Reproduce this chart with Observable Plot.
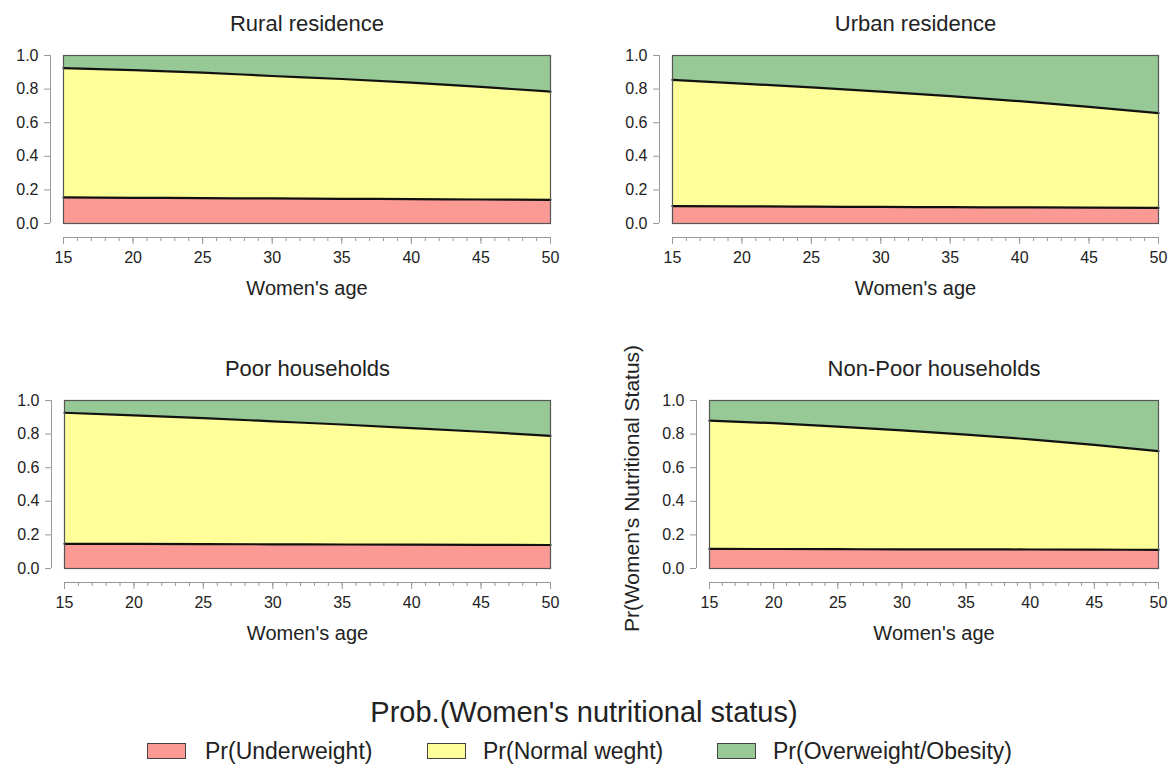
<!DOCTYPE html>
<html>
<head>
<meta charset="utf-8">
<script src="https://cdn.jsdelivr.net/npm/d3@7"></script>
<script src="https://cdn.jsdelivr.net/npm/@observablehq/plot@0.6"></script>
<style>
  html, body { margin: 0; padding: 0; background: #fff; }
  #root { position: relative; width: 1174px; height: 769px; font-family: "Liberation Sans", Arial, Helvetica, sans-serif; color: #222; }
  .panel { position: absolute; }
  .legend-title { position: absolute; left: 0; width: 1168px; text-align: center; top: 695px; font-size: 29px; line-height: 34px; }
  .sw { position: absolute; width: 37px; height: 14px; border: 1px solid #444; top: 743px; }
  .lab { position: absolute; font-size: 23px; line-height: 26px; top: 738px; }
</style>
</head>
<body>
<div id="root"></div>
<script>
const ages = [15, 20, 25, 30, 35, 40, 45, 50];
const statuses = ["Pr(Underweight)", "Pr(Normal weght)", "Pr(Overweight/Obesity)"];
const statusColors = ["#FB9A95", "#FFFF99", "#97C996"];
const panelTitles = ["Rural residence", "Urban residence", "Poor households", "Non-Poor households"];
const xTicks = [15, 20, 25, 30, 35, 40, 45, 50];
const yTicks = [0, 0.2, 0.4, 0.6, 0.8, 1.0];

const ruralUnder  = [0.155, 0.153, 0.151, 0.149, 0.147, 0.145, 0.143, 0.141];
const ruralNormal = [0.770, 0.760, 0.747, 0.729, 0.713, 0.693, 0.670, 0.644];
const ruralOver   = [0.075, 0.087, 0.102, 0.122, 0.140, 0.162, 0.187, 0.215];

const urbanUnder  = [0.103, 0.102, 0.100, 0.099, 0.097, 0.096, 0.094, 0.093];
const urbanNormal = [0.752, 0.731, 0.710, 0.686, 0.661, 0.632, 0.600, 0.564];
const urbanOver   = [0.145, 0.167, 0.190, 0.215, 0.242, 0.272, 0.306, 0.343];

const poorUnder  = [0.147, 0.146, 0.145, 0.144, 0.143, 0.142, 0.141, 0.140];
const poorNormal = [0.780, 0.766, 0.750, 0.732, 0.714, 0.694, 0.673, 0.650];
const poorOver   = [0.073, 0.088, 0.105, 0.124, 0.143, 0.164, 0.186, 0.210];

const nonPoorUnder  = [0.117, 0.116, 0.115, 0.114, 0.114, 0.113, 0.112, 0.111];
const nonPoorNormal = [0.763, 0.749, 0.730, 0.708, 0.683, 0.656, 0.624, 0.587];
const nonPoorOver   = [0.120, 0.135, 0.155, 0.178, 0.203, 0.231, 0.264, 0.302];

const xLabel = "Women's age";
const yLabel = "Pr(Women's Nutritional Status)";
const legendTitle = "Prob.(Women's nutritional status)";

const FONT = '"Liberation Sans", Arial, Helvetica, sans-serif';

function rowsFor(series) {
  const rows = [];
  series.forEach((vals, si) => {
    ages.forEach((a, i) => rows.push({age: a, status: statuses[si], p: vals[i]}));
  });
  return rows;
}

const panels = [
  {title: panelTitles[0], series: [ruralUnder, ruralNormal, ruralOver], left: 0, top: 0, width: 580, ml: 63, mr: 30, ylab: false},
  {title: panelTitles[1], series: [urbanUnder, urbanNormal, urbanOver], left: 580, top: 0, width: 594, ml: 92, mr: 16, ylab: false},
  {title: panelTitles[2], series: [poorUnder, poorNormal, poorOver], left: 0, top: 345, width: 580, ml: 64, mr: 30, ylab: false},
  {title: panelTitles[3], series: [nonPoorUnder, nonPoorNormal, nonPoorOver], left: 580, top: 345, width: 594, ml: 129, mr: 16, ylab: true}
];

const root = document.getElementById("root");

for (const pn of panels) {
  const rows = rowsFor(pn.series);
  const lowerRows = rows.filter(d => d.status !== statuses[2]);
  const marks = [
    Plot.areaY(rows, {x: "age", y: "p", fill: "status", order: statuses, curve: "monotone-x"}),
    Plot.lineY(lowerRows, Plot.stackY2({x: "age", y: "p", z: "status", order: statuses, stroke: "#111", strokeWidth: 2.2, curve: "monotone-x"})),
    Plot.frame({stroke: "#555", strokeWidth: 1.2}),
    Plot.ruleY([0], {dy: 14, stroke: "#999"}),
    Plot.ruleX([15], {dx: -13, stroke: "#999"}),
    Plot.axisX({ticks: d3.range(15, 51, 1), tickSize: 4, tickFormat: () => "", dy: 14, stroke: "#999", label: null}),
    Plot.axisX({ticks: xTicks, tickSize: 7, tickPadding: 7, dy: 14, stroke: "#999", fill: "#222", fontSize: 16, label: null}),
    Plot.axisY({ticks: yTicks, tickSize: 6, tickPadding: 6, dx: -13, stroke: "#999", fill: "#222", fontSize: 16, tickFormat: d3.format(".1f"), label: null}),
    Plot.text([pn.title], {frameAnchor: "top", lineAnchor: "middle", dy: -32, fontSize: 22, fill: "#222"}),
    Plot.text([xLabel], {frameAnchor: "bottom", lineAnchor: "middle", dy: 65, fontSize: 20, fill: "#222"})
  ];
  if (pn.ylab) {
    marks.push(Plot.text([yLabel], {frameAnchor: "left", textAnchor: "middle", lineAnchor: "middle", dx: -77, dy: 4, rotate: -90, fontSize: 21, fill: "#222"}));
  }
  const chart = Plot.plot({
    width: pn.width,
    height: 310,
    marginLeft: pn.ml,
    marginRight: pn.mr,
    marginTop: 55,
    marginBottom: 87,
    style: {fontFamily: FONT, fontSize: "16px", background: "transparent", overflow: "visible"},
    x: {domain: [15, 50]},
    y: {domain: [0, 1]},
    color: {domain: statuses, range: statusColors},
    marks
  });
  chart.classList.add("panel");
  chart.style.left = pn.left + "px";
  chart.style.top = pn.top + "px";
  root.appendChild(chart);
}

// Legend (below the panels)
const lt = document.createElement("div");
lt.className = "legend-title";
lt.textContent = legendTitle;
root.appendChild(lt);
const swX = [147, 427, 717];
const labX = [205, 483, 773];
statuses.forEach((s, i) => {
  const sw = document.createElement("div");
  sw.className = "sw";
  sw.style.left = swX[i] + "px";
  sw.style.background = statusColors[i];
  root.appendChild(sw);
  const lb = document.createElement("div");
  lb.className = "lab";
  lb.style.left = labX[i] + "px";
  lb.textContent = s;
  root.appendChild(lb);
});
</script>
</body>
</html>
